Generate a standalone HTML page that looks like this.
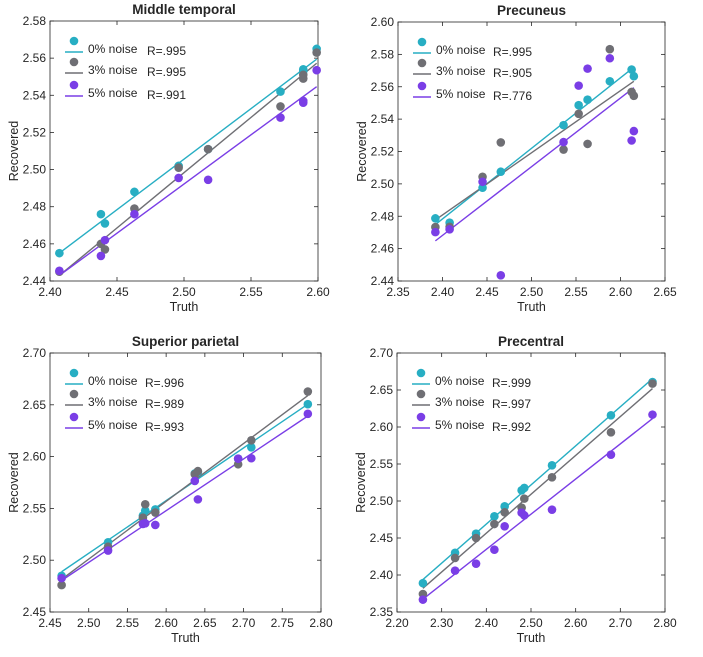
<!DOCTYPE html>
<html><head><meta charset="utf-8"><style>
body{margin:0;background:#fff;font-family:"Liberation Sans",Arial,sans-serif}
svg text{font-family:"Liberation Sans",Arial,sans-serif;fill:#262626}
</style></head><body>
<svg id="fig" width="703" height="652" viewBox="0 0 703 652" xmlns="http://www.w3.org/2000/svg"></svg>
<script>
// ---- data ----
const mtTruth=[2.407,2.438,2.441,2.463,2.496,2.518,2.572,2.589,2.589,2.599];
const mtN0=[2.455,2.476,2.471,2.488,2.502,2.511,2.542,2.554,2.553,2.565];
const mtN3=[2.445,2.460,2.457,2.479,2.501,2.511,2.534,2.551,2.549,2.563];
const mtN5=[2.4455,2.4535,2.462,2.476,2.4955,2.4945,2.528,2.536,2.537,2.5535];
const mtR=["R=.995","R=.995","R=.991"];
const mtXTicks=[2.40,2.45,2.50,2.55,2.60];
const mtYTicks=[2.44,2.46,2.48,2.50,2.52,2.54,2.56,2.58];

const pcTruth=[2.392,2.408,2.445,2.4655,2.536,2.553,2.563,2.588,2.6125,2.615];
const pcN0=[2.4787,2.476,2.4976,2.5075,2.5363,2.5486,2.552,2.5634,2.5706,2.5665];
const pcN3=[2.4733,2.4735,2.5044,2.5256,2.5212,2.5433,2.5247,2.5832,2.5568,2.5544];
const pcN5=[2.4702,2.4719,2.5013,2.4435,2.5258,2.5607,2.5712,2.5776,2.5268,2.5326];
const pcR=["R=.995","R=.905","R=.776"];
const pcXTicks=[2.35,2.40,2.45,2.50,2.55,2.60,2.65];
const pcYTicks=[2.44,2.46,2.48,2.50,2.52,2.54,2.56,2.58,2.60];

const spTruth=[2.465,2.525,2.570,2.573,2.586,2.637,2.641,2.693,2.710,2.783];
const spN0=[2.4849,2.5173,2.543,2.5478,2.549,2.5837,2.585,2.598,2.609,2.6506];
const spN3=[2.476,2.513,2.541,2.554,2.546,2.583,2.586,2.5926,2.6157,2.6628];
const spN5=[2.4827,2.5093,2.535,2.5356,2.534,2.5765,2.5587,2.598,2.5984,2.6413];
const spR=["R=.996","R=.989","R=.993"];
const spXTicks=[2.45,2.50,2.55,2.60,2.65,2.70,2.75,2.80];
const spYTicks=[2.45,2.50,2.55,2.60,2.65,2.70];

const prTruth=[2.258,2.330,2.377,2.418,2.441,2.479,2.485,2.547,2.679,2.772];
const prN0=[2.389,2.430,2.4559,2.4793,2.4928,2.5144,2.5176,2.5482,2.6158,2.6608];
const prN3=[2.3743,2.423,2.45,2.4689,2.4847,2.491,2.5032,2.532,2.5928,2.6586];
const prN5=[2.3667,2.4059,2.4153,2.4342,2.4658,2.4842,2.4806,2.4883,2.5626,2.6167];
const prR=["R=.999","R=.997","R=.992"];
const prXTicks=[2.20,2.30,2.40,2.50,2.60,2.70,2.80];
const prYTicks=[2.35,2.40,2.45,2.50,2.55,2.60,2.65,2.70];

const seriesLabels=["0% noise","3% noise","5% noise"];
const colors=["#27aec3","#6f6f74","#7a3ee6"];

const NS="http://www.w3.org/2000/svg";
const svg=document.getElementById('fig');
function mk(tag,attrs,parent){const e=document.createElementNS(NS,tag);for(const k in attrs)e.setAttribute(k,attrs[k]);(parent||svg).appendChild(e);return e;}

function panel(key,title,box,truth,series,rs,xt,yt,xdec){
  const g=mk('g',{});
  
  
  const [L,T,R,B]=box;
  const x0=xt[0],x1=xt[xt.length-1],y0=yt[0],y1=yt[yt.length-1];
  const sx=v=>L+(v-x0)/(x1-x0)*(R-L);
  const sy=v=>B-(v-y0)/(y1-y0)*(B-T);
  const frame=mk('rect',{x:L,y:T,width:R-L,height:B-T,fill:'none',stroke:'#262626','stroke-width':0.8},g);
  
  
  xt.forEach(v=>{
    const x=sx(v);
    mk('line',{x1:x,x2:x,y1:B,y2:B-4,stroke:'#262626','stroke-width':0.8},g);
    mk('line',{x1:x,x2:x,y1:T,y2:T+4,stroke:'#262626','stroke-width':0.8},g);
    const t=mk('text',{x:x,y:B+15,'text-anchor':'middle','font-size':12},g);
    t.textContent=v.toFixed(2);
    
    
  });
  yt.forEach(v=>{
    const y=sy(v);
    mk('line',{x1:L,x2:L+4,y1:y,y2:y,stroke:'#262626','stroke-width':0.8},g);
    mk('line',{x1:R,x2:R-4,y1:y,y2:y,stroke:'#262626','stroke-width':0.8},g);
    const t=mk('text',{x:L-4,y:y+4,'text-anchor':'end','font-size':12},g);
    t.textContent=v.toFixed(2);
    
    
  });
  const tt=mk('text',{x:(L+R)/2,y:T-7,'text-anchor':'middle','font-size':13.5,'font-weight':'bold'},g);
  tt.textContent=title;
  
  
  const xl=mk('text',{x:(L+R)/2,y:B+30,'text-anchor':'middle','font-size':12.5},g);
  xl.textContent='Truth';
  
  
  const yx=L-32,yy=(T+B)/2;
  const yl=mk('text',{x:yx,y:yy,'text-anchor':'middle','font-size':12.5,transform:`rotate(-90 ${yx} ${yy})`},g);
  yl.textContent='Recovered';
  
  
  const xmin=Math.min(...truth),xmax=Math.max(...truth);
  series.forEach((ys,i)=>{
    const n=truth.length;let mx=0,my=0;
    for(let k=0;k<n;k++){mx+=truth[k];my+=ys[k];}mx/=n;my/=n;
    let sxy=0,sxx=0;for(let k=0;k<n;k++){sxy+=(truth[k]-mx)*(ys[k]-my);sxx+=(truth[k]-mx)**2;}
    const b=sxy/sxx,a=my-b*mx;
    const ln=mk('line',{x1:sx(xmin),y1:sy(a+b*xmin),x2:sx(xmax),y2:sy(a+b*xmax),stroke:colors[i],'stroke-width':1.4},g);
    
    
  });
  series.forEach((ys,i)=>{
    ys.forEach((v,k)=>{
      const c=mk('circle',{cx:sx(truth[k]),cy:sy(v),r:4.3,fill:colors[i]},g);
      
      
    });
  });
  // legend
  const lx=L+15,ly=T+20,dy=[0,21,44];
  seriesLabels.forEach((s,i)=>{
    const by=ly+dy[i];
    const lg=mk('g',{},g);
    
    
    mk('circle',{cx:lx+9,cy:by,r:4.3,fill:colors[i]},lg);
    mk('line',{x1:lx,x2:lx+18,y1:by+11,y2:by+11,stroke:colors[i],'stroke-width':1.4},lg);
    const t=mk('text',{x:lx+23,y:by+12,'font-size':12},lg);
    t.textContent=s;
    const r=mk('text',{x:lx+(xdec||82),y:by+14,'font-size':12},lg);
    r.textContent=rs[i];
  });
}
panel('middle-temporal','Middle temporal',[50,21,318,281],mtTruth,[mtN0,mtN3,mtN5],mtR,mtXTicks,mtYTicks,82);
panel('precuneus','Precuneus',[398,22,665,281],pcTruth,[pcN0,pcN3,pcN5],pcR,pcXTicks,pcYTicks,80);
panel('superior-parietal','Superior parietal',[50,353,321,612],spTruth,[spN0,spN3,spN5],spR,spXTicks,spYTicks,80);
panel('precentral','Precentral',[397,353,665,612],prTruth,[prN0,prN3,prN5],prR,prXTicks,prYTicks,80);
</script>
</body></html>
